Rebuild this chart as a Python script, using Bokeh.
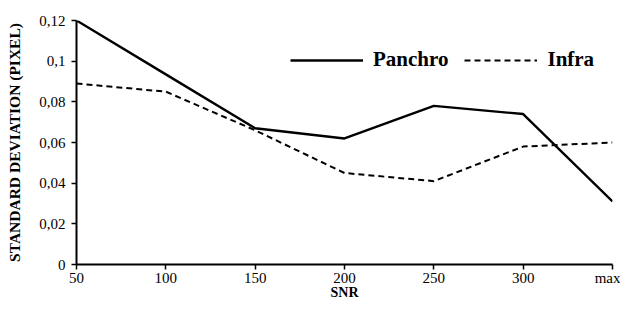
from bokeh.plotting import figure
from bokeh.models import Range1d, FixedTicker, Legend, LegendItem
from bokeh.embed import file_html
from bokeh.resources import INLINE

categories = ["50", "100", "150", "200", "250", "300", "max"]
panchro = [0.120, 0.0935, 0.067, 0.062, 0.078, 0.074, 0.031]
infra = [0.089, 0.085, 0.066, 0.045, 0.041, 0.058, 0.060]
y_ticks = [0, 0.02, 0.04, 0.06, 0.08, 0.1, 0.12]
y_tick_labels = ["0", "0,02", "0,04", "0,06", "0,08", "0,1", "0,12"]

xs = list(range(len(categories)))
FONT = "Liberation Serif"

p = figure(width=620, height=313, output_backend="svg", toolbar_location=None,
           x_range=Range1d(0, len(categories) - 1), y_range=Range1d(0, 0.12),
           min_border_left=76, min_border_right=8, min_border_top=20, min_border_bottom=49)
p.outline_line_color = None
p.xgrid.visible = False
p.ygrid.visible = False
p.background_fill_color = "white"
p.border_fill_color = "white"

r1 = p.line(xs, panchro, line_color="black", line_width=2.4)
r2 = p.line(xs, infra, line_color="black", line_width=2, line_dash="6 4")

p.xaxis.ticker = FixedTicker(ticks=xs)
p.xaxis.major_label_overrides = {i: c for i, c in enumerate(categories)}
p.yaxis.ticker = FixedTicker(ticks=y_ticks)
p.yaxis.major_label_overrides = {t: l for t, l in zip(y_ticks, y_tick_labels)}

for ax in (p.xaxis[0], p.yaxis[0]):
    ax.axis_line_color = "black"
    ax.axis_line_width = 2
    ax.major_tick_line_color = "black"
    ax.major_tick_line_width = 1.5
    ax.major_tick_out = 5
    ax.major_tick_in = 0
    ax.minor_tick_line_color = None
    ax.major_label_text_font = FONT
    ax.major_label_text_font_size = "15px"
    ax.major_label_text_color = "black"
    ax.axis_label_text_font = FONT
    ax.axis_label_text_font_style = "bold"
    ax.axis_label_text_color = "black"

p.xaxis.axis_label = "SNR"
p.xaxis.axis_label_text_font_size = "14px"
p.xaxis.major_label_standoff = 0
p.xaxis.axis_label_standoff = -4
p.yaxis.axis_label = "STANDARD DEVIATION (PIXEL)"
p.yaxis.axis_label_text_font_size = "15.5px"
p.yaxis.major_label_standoff = 6
p.yaxis.axis_label_standoff = 13

legend = Legend(items=[LegendItem(label="Panchro", renderers=[r1]),
                       LegendItem(label="Infra", renderers=[r2])],
                orientation="horizontal", location=(214, 192),
                glyph_width=73, glyph_height=20, label_standoff=10, spacing=16,
                padding=0, margin=0, border_line_color=None, background_fill_alpha=0,
                label_text_font=FONT, label_text_font_style="bold",
                label_text_font_size="21px", label_text_color="black")
p.add_layout(legend, "center")

open("out.html", "w").write(file_html(p, INLINE))
